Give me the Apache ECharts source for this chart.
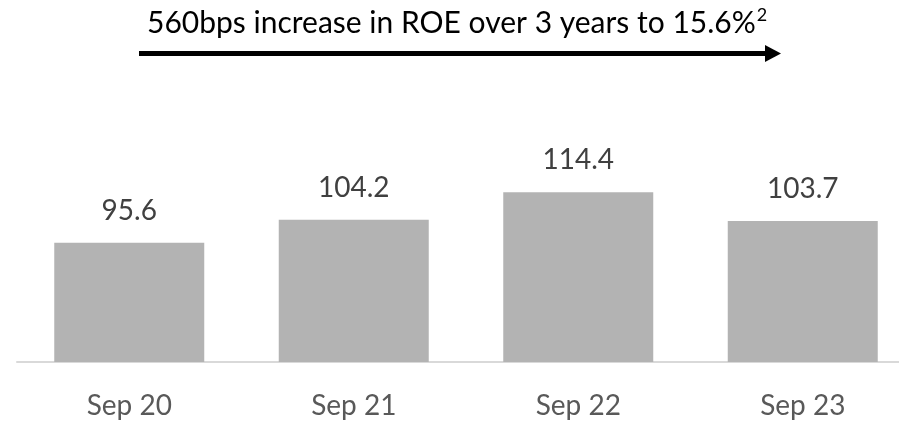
<!DOCTYPE html>
<html>
<head>
<meta charset="utf-8">
<script src="https://cdn.jsdelivr.net/npm/echarts@6/dist/echarts.min.js"></script>
<style>
html,body{margin:0;padding:0;background:#fff;overflow:hidden;width:899px;height:421px;}
#chart{width:916px;height:421px;}
</style>
</head>
<body>
<div id="chart"></div>
<script>
const categories = ['Sep 20', 'Sep 21', 'Sep 22', 'Sep 23'];
const values = [95.6, 104.2, 114.4, 103.7];
const headlineMain = '560bps increase in ROE over 3 years to 15.6%';
const headlineSup = '2';

const chart = echarts.init(document.getElementById('chart'), null, {renderer: 'canvas'});
const FONT = 'Lato';
chart.setOption({
  animation: false,
  backgroundColor: '#ffffff',
  title: {
    text: '{a|' + headlineMain + '}{s|' + headlineSup + '}',
    left: 147,
    top: 6,
    padding: 0,
    textStyle: {
      fontFamily: FONT, fontSize: 30, fontWeight: 'normal', color: '#000000',
      rich: {
        a: {fontFamily: FONT, fontSize: 30, color: '#000000', lineHeight: 34},
        s: {fontFamily: FONT, fontSize: 18, color: '#000000', verticalAlign: 'top', lineHeight: 34, padding: [0, 0, 0, 1]}
      }
    }
  },
  graphic: [
    {type: 'line', shape: {x1: 139, y1: 53.5, x2: 767, y2: 53.5}, style: {stroke: '#000', lineWidth: 5}},
    {type: 'polygon', shape: {points: [[765, 45], [781, 53.5], [765, 62]]}, style: {fill: '#000'}}
  ],
  grid: {left: 17, right: 1, top: 94.4, bottom: 59, containLabel: false},
  xAxis: {
    type: 'category',
    data: categories,
    axisLine: {show: true, lineStyle: {color: '#d9d9d9', width: 2}},
    axisTick: {show: false},
    axisLabel: {fontFamily: FONT, fontSize: 28, color: '#595959', margin: 30}
  },
  yAxis: {
    type: 'value',
    min: 51,
    max: 151,
    show: false,
    splitLine: {show: false}
  },
  series: [{
    type: 'bar',
    data: values,
    barWidth: 150,
    itemStyle: {color: '#b3b3b3'},
    label: {
      show: true,
      position: 'top',
      distance: 18,
      fontFamily: FONT,
      fontSize: 28,
      color: '#404040',
      formatter: p => p.value.toFixed(1)
    }
  }]
});
</script>
</body>
</html>
